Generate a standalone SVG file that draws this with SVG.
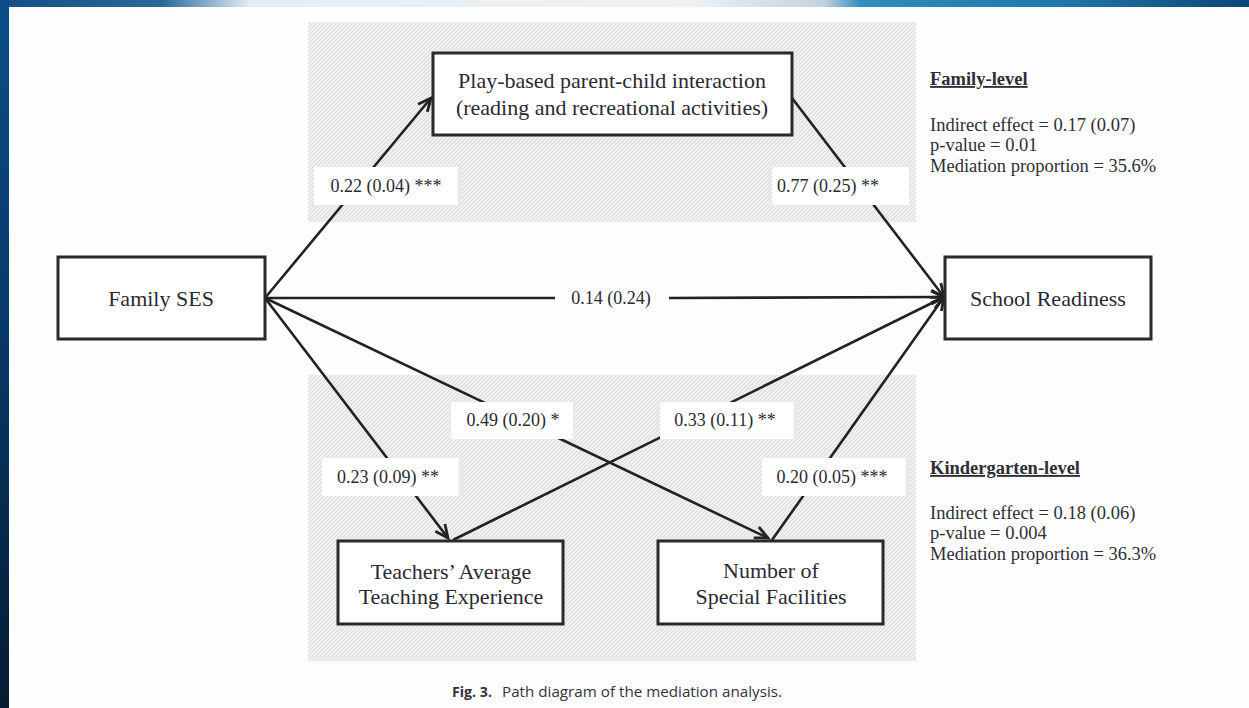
<svg xmlns="http://www.w3.org/2000/svg" width="1249" height="708" viewBox="0 0 1249 708">
  <defs>
    <linearGradient id="topbar" x1="0" y1="0" x2="1" y2="0">
      <stop offset="0" stop-color="#0f4f86"/>
      <stop offset="0.13" stop-color="#2a6a9a"/>
      <stop offset="0.2" stop-color="#e6ecf1"/>
      <stop offset="0.55" stop-color="#eef2f5"/>
      <stop offset="0.66" stop-color="#c4d2de"/>
      <stop offset="0.69" stop-color="#2f8cbb"/>
      <stop offset="0.85" stop-color="#1f78aa"/>
      <stop offset="1" stop-color="#0c4676"/>
    </linearGradient>
    <linearGradient id="leftbar" x1="0" y1="0" x2="0" y2="1">
      <stop offset="0" stop-color="#0b4e86"/>
      <stop offset="0.5" stop-color="#083765"/>
      <stop offset="1" stop-color="#061b31"/>
    </linearGradient>
    <pattern id="hatch" patternUnits="userSpaceOnUse" width="4" height="4">
      <rect width="4" height="4" fill="#efefef"/>
      <path d="M-1,1 L1,-1 M0,4 L4,0 M3,5 L5,3" stroke="#d9d9d9" stroke-width="0.9"/>
    </pattern>
    <marker id="arrow" markerUnits="userSpaceOnUse" markerWidth="18" markerHeight="16" refX="13" refY="6.5" orient="auto" overflow="visible">
      <path d="M0,0.5 L13,6.5 L0,12.5" fill="none" stroke="#222" stroke-width="2.8" stroke-linejoin="miter"/>
    </marker>
    <style>
      .box { fill: #ffffff; stroke: #2a2a2a; stroke-width: 3; }
      .node { font-family: "Liberation Serif", "Times New Roman", serif; font-size: 22px; fill: #2a2a33; text-anchor: middle; }
      .lbl { font-family: "Liberation Serif", "Times New Roman", serif; font-size: 18px; fill: #2a2a33; text-anchor: middle; }
      .lblbg { fill: #ffffff; }
      .side { font-family: "Liberation Serif", "Times New Roman", serif; font-size: 18.5px; fill: #2e2e36; }
      .head { font-weight: bold; text-decoration: underline; }
      .edge { stroke: #222; stroke-width: 2.6; fill: none; marker-end: url(#arrow); }
      .plain { stroke: #222; stroke-width: 2.6; fill: none; }
      .cap { font-family: "Open Sans", "Liberation Sans", sans-serif; font-size: 14px; fill: #333340; }
    </style>
  </defs>

  <!-- background -->
  <rect x="0" y="0" width="1249" height="708" fill="#fdfdfd"/>
  <rect x="0" y="0" width="1249" height="7" fill="url(#topbar)"/>
  <rect x="0" y="0" width="9" height="708" fill="url(#leftbar)"/>

  <!-- shaded panels -->
  <rect x="308" y="22" width="608" height="200" fill="url(#hatch)"/>
  <rect x="308" y="375" width="608" height="286" fill="url(#hatch)"/>

  <!-- connectors -->
  <g id="connectors">
    <line class="edge" x1="265" y1="298" x2="431" y2="98"/>
    <line class="edge" x1="792" y1="98" x2="944" y2="297"/>
    <line class="plain" x1="265" y1="298" x2="555" y2="298"/>
    <line class="edge" x1="669" y1="298" x2="944" y2="297"/>
    <line class="edge" x1="265" y1="298" x2="448" y2="538"/>
    <line class="edge" x1="265" y1="298" x2="768" y2="538"/>
    <line class="edge" x1="453" y1="540" x2="944" y2="297"/>
    <line class="edge" x1="772" y1="540" x2="944" y2="297"/>
  </g>

  <!-- edge labels -->
  <g id="edge-labels">
    <rect class="lblbg" x="314" y="167" width="144" height="38"/>
    <text class="lbl" x="386" y="192">0.22 (0.04) ***</text>
    <rect class="lblbg" x="772" y="167" width="137" height="38"/>
    <text class="lbl" x="828" y="192">0.77 (0.25) **</text>
    <text class="lbl" x="611" y="304">0.14 (0.24)</text>
    <rect class="lblbg" x="451" y="402" width="122" height="37"/>
    <text class="lbl" x="513" y="426">0.49 (0.20) *</text>
    <rect class="lblbg" x="660" y="402" width="134" height="37"/>
    <text class="lbl" x="725" y="426">0.33 (0.11) **</text>
    <rect class="lblbg" x="322" y="458" width="137" height="38"/>
    <text class="lbl" x="388" y="483">0.23 (0.09) **</text>
    <rect class="lblbg" x="762" y="458" width="144" height="38"/>
    <text class="lbl" x="832" y="483">0.20 (0.05) ***</text>
  </g>

  <!-- nodes -->
  <g id="family-ses">
    <rect class="box" x="58" y="257" width="207" height="82"/>
    <text class="node" x="161" y="306">Family SES</text>
  </g>
  <g id="play-based">
    <rect class="box" x="433" y="53" width="359" height="82"/>
    <text class="node" x="612" y="88">Play-based parent-child interaction</text>
    <text class="node" x="612" y="115">(reading and recreational activities)</text>
  </g>
  <g id="school-readiness">
    <rect class="box" x="945" y="257" width="206" height="82"/>
    <text class="node" x="1048" y="306">School Readiness</text>
  </g>
  <g id="teachers">
    <rect class="box" x="338" y="541" width="225" height="83"/>
    <text class="node" x="451" y="579">Teachers’ Average</text>
    <text class="node" x="451" y="604">Teaching Experience</text>
  </g>
  <g id="facilities">
    <rect class="box" x="658" y="541" width="225" height="83"/>
    <text class="node" x="771" y="578">Number of</text>
    <text class="node" x="771" y="604">Special Facilities</text>
  </g>

  <!-- side notes -->
  <g id="family-level">
    <text class="side head" x="930" y="85">Family-level</text>
    <text class="side" x="930" y="131">Indirect effect = 0.17 (0.07)</text>
    <text class="side" x="930" y="151">p-value = 0.01</text>
    <text class="side" x="930" y="172">Mediation proportion = 35.6%</text>
  </g>
  <g id="kindergarten-level">
    <text class="side head" x="930" y="474">Kindergarten-level</text>
    <text class="side" x="930" y="519">Indirect effect = 0.18 (0.06)</text>
    <text class="side" x="930" y="539">p-value = 0.004</text>
    <text class="side" x="930" y="560">Mediation proportion = 36.3%</text>
  </g>

  <!-- caption -->
  <text class="cap" x="452" y="697"><tspan font-weight="bold" textLength="40" lengthAdjust="spacingAndGlyphs">Fig. 3.</tspan><tspan x="502" textLength="280" lengthAdjust="spacingAndGlyphs">Path diagram of the mediation analysis.</tspan></text>
</svg>
